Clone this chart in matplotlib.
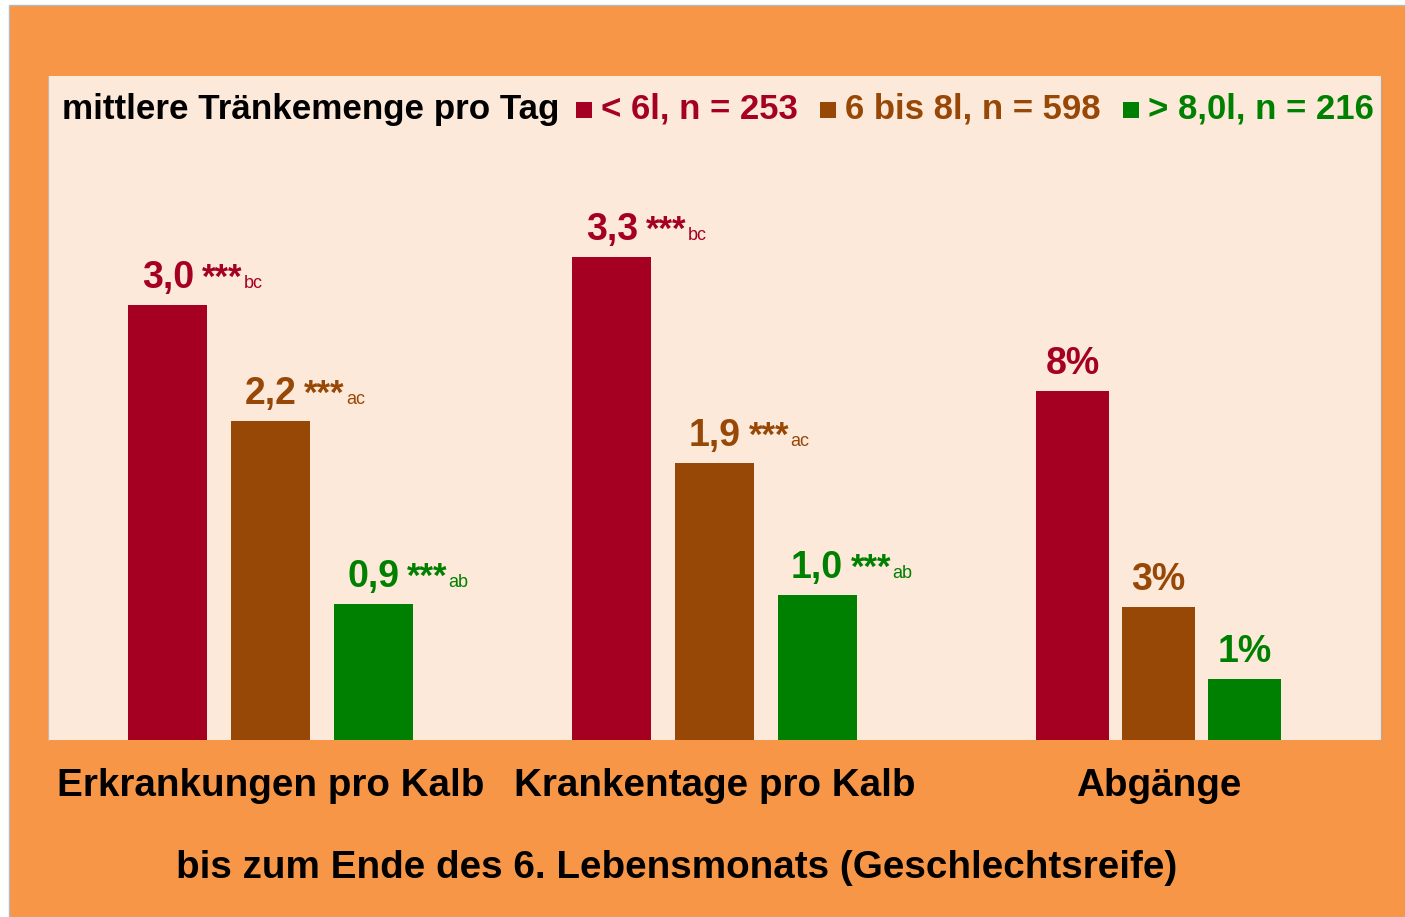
import matplotlib
matplotlib.use('Agg')
import matplotlib.pyplot as plt
import matplotlib.transforms as mtransforms
from matplotlib.patches import Rectangle

plt.rcParams['font.family'] = ['Liberation Sans', 'DejaVu Sans']

# Daten
gruppen = ['Erkrankungen pro Kalb', 'Krankentage pro Kalb', 'Abgänge']
serien = ['< 6l, n = 253', '6 bis 8l, n = 598', '> 8,0l, n = 216']
farben = ['#A50021', '#974706', '#008000']
erkrankungen = [3.0, 2.2, 0.94]       # Balkenhöhen aus Bild geschätzt
erkrankungen_txt = ['3,0', '2,2', '0,9']
krankentage = [3.33, 1.91, 1.0]
krankentage_txt = ['3,3', '1,9', '1,0']
abgaenge = [8.0, 3.05, 1.4]           # Prozent, Balkenhöhe aus Bild geschätzt
abgaenge_txt = ['8%', '3%', '1%']
signif = ['bc', 'ac', 'ab']
legende_titel = 'mittlere Tränkemenge pro Tag'
fusszeile = 'bis zum Ende des 6. Lebensmonats (Geschlechtsreife)'

W, H = 1405, 917
orange = '#F79646'
panel = '#FDE9D9'

fig = plt.figure(figsize=(W / 100, H / 100), dpi=100, facecolor='white')
fig.add_artist(Rectangle((9 / W, 0), 1, 1 - 5 / H, transform=fig.transFigure,
                         facecolor=orange, edgecolor='#B8B8B8', linewidth=1, zorder=0))

ax = fig.add_axes([48 / W, 177 / H, 1333 / W, 664 / H])
ax.set_facecolor(panel)
ax.set_xlim(-0.501, 2.501)
ax.set_ylim(0, 664 / 145)
ax2 = ax.twinx()
ax2.set_ylim(0, 664 / 43.6)
for a in (ax, ax2):
    for s in ['top', 'bottom']:
        a.spines[s].set_visible(False)
    a.spines['left'].set_color('#C8B8AA')
    a.spines['right'].set_color('#B8A898')
    a.spines['left'].set_linewidth(0.8)
    a.spines['right'].set_linewidth(0.8)
    a.set_yticks([])
ax.set_xticks(range(len(gruppen)), gruppen, fontsize=27.8, fontweight='bold')
ax.tick_params(axis='x', length=0, pad=20.5)

breite, abstand = 0.178, 0.231
breite3, abstand3 = 0.164, 0.194
zahlen = []
for i in range(3):
    for g, (werte, txt) in enumerate([(erkrankungen, erkrankungen_txt), (krankentage, krankentage_txt)]):
        x = g + (i - 1) * abstand
        ax.bar(x, werte[i], width=breite, color=farben[i], zorder=2)
        tr = mtransforms.offset_copy(ax.transData, fig=fig, y=17, units='dots')
        t = ax.text(x, werte[i], txt[i], transform=tr, ha='center', va='baseline',
                    fontsize=27, fontweight='bold', color=farben[i])
        zahlen.append((t, i))
    x = 2 + (i - 1) * abstand3
    ax2.bar(x, abgaenge[i], width=breite3, color=farben[i], zorder=2)
    tr = mtransforms.offset_copy(ax2.transData, fig=fig, y=17, units='dots')
    ax2.text(x, abgaenge[i], abgaenge_txt[i], transform=tr, ha='center', va='baseline',
             fontsize=27, fontweight='bold', color=farben[i])

# Signifikanzsterne hinter die Zahlen setzen
fig.canvas.draw()
renderer = fig.canvas.get_renderer()
ident = mtransforms.IdentityTransform()
for t, i in zahlen:
    bb = t.get_window_extent(renderer)
    xb, yb = t.get_transform().transform(t.get_position())
    s = fig.text(bb.x1 + 8, yb, '***', transform=ident, ha='left', va='baseline',
                 fontsize=25, fontweight='bold', color=farben[i])
    bb2 = s.get_window_extent(renderer)
    fig.text(bb2.x1 + 1, yb, signif[i], transform=ident, ha='left', va='baseline',
             fontsize=13, color=farben[i])

# Legende oben
yl = 1 - 119 / H
fig.text(62 / W, yl, legende_titel, ha='left', va='baseline', fontsize=25.2, fontweight='bold', color='black')
quad_x = [576, 820, 1123]
text_x = [601, 845, 1148]
for i in range(3):
    fig.add_artist(Rectangle((quad_x[i] / W, 1 - 118 / H), 16 / W, 16 / H, transform=fig.transFigure,
                             facecolor=farben[i], edgecolor='none'))
    fig.text(text_x[i] / W, yl, serien[i], ha='left', va='baseline', fontsize=25,
             fontweight='bold', color=farben[i])

fig.text(677 / W, 1 - 878 / H, fusszeile, ha='center', va='baseline', fontsize=27.8, fontweight='bold')

fig.savefig('out.png', dpi=100, facecolor=fig.get_facecolor())
